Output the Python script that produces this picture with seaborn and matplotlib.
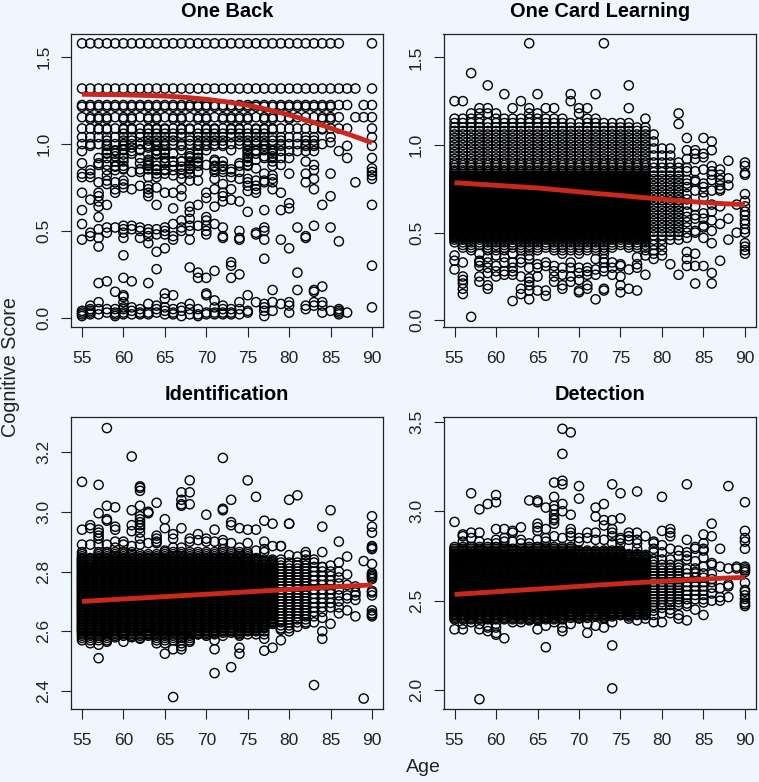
import matplotlib
matplotlib.use("Agg")
import matplotlib.pyplot as plt
import seaborn as sns
import pandas as pd

BG = "#F0F6FF"
RED = "#C9281C"

titles = ["One Back", "One Card Learning", "Identification", "Detection"]
ages = list(range(55, 91))
x_ticks = [55, 60, 65, 70, 75, 80, 85, 90]

# ---------- One Back: discrete upper levels, ages holding a circle on each ----------
ob_levels = [1.58, 1.32, 1.225, 1.215, 1.155, 1.145, 1.09, 1.085, 1.06, 1.04, 1.02, 1.0, 0.99,
             0.965, 0.945, 0.92, 0.90, 0.875, 0.855]
ob_level_ages = [
    list(range(55, 87)) + [90],
    list(range(55, 89)) + [90],
    list(range(55, 88)) + [89, 90],
    list(range(55, 86)),
    list(range(55, 87)) + [88, 89, 90],
    [56, 57, 58, 60, 61, 63, 64, 66, 67, 69, 70, 72, 73, 74, 75, 77, 78, 80, 84, 85],
    list(range(55, 84)) + [84, 85, 86, 87, 90],
    [57, 58, 60, 61, 63, 64, 65, 67, 68, 70, 71, 73, 74, 76, 77, 78, 84],
    [60, 62, 63, 64, 65, 66, 67, 69, 70, 71, 72, 73, 74, 75, 76, 77],
    list(range(55, 84)) + [85, 90],
    [58, 60, 61, 63, 64, 65, 66, 68, 69, 70, 71, 72, 74, 75, 76, 77, 78, 79, 82, 83],
    list(range(55, 84)) + [84],
    [56, 58, 60, 63, 64, 65, 67, 69, 70, 71, 72, 75, 77, 79, 82, 83],
    [58, 59, 60, 62, 64, 65, 67, 69, 70, 73, 75, 76, 77, 78],
    [58, 59, 61, 64, 65, 66, 68, 69, 75, 76, 78],
    [58, 60, 62, 65, 68, 69, 75, 77, 78],
    [59, 63, 65, 66, 67, 68, 69, 71, 72, 75],
    [59, 60, 63, 64, 66, 68, 69, 71, 72, 74, 75, 78],
    [60, 62, 63, 64, 65, 67, 68, 71, 72, 73],
]
ob_rest = [
    [0.96, 0.89, 0.83, 0.81, 0.72, 0.62, 0.54, 0.45, 0.04, 0.03, 0.02, 0.01],
    [0.85, 0.83, 0.81, 0.68, 0.49, 0.47, 0.07, 0.05, 0.04, 0.03, 0.02],
    [0.92, 0.89, 0.88, 0.78, 0.72, 0.70, 0.67, 0.64, 0.58, 0.51, 0.46, 0.41, 0.20, 0.09, 0.05, 0.02],
    [0.95, 0.88, 0.85, 0.82, 0.79, 0.77, 0.65, 0.52, 0.49, 0.21, 0.05, 0.03],
    [0.96, 0.93, 0.87, 0.85, 0.78, 0.74, 0.72, 0.52, 0.15, 0.05, 0.03, 0.02, 0.01],
    [0.97, 0.94, 0.90, 0.86, 0.79, 0.77, 0.75, 0.53, 0.51, 0.49, 0.46, 0.36, 0.23, 0.13, 0.12, 0.09, 0.06, 0.05, 0.03, 0.02],
    [0.98, 0.96, 0.84, 0.74, 0.53, 0.51, 0.21, 0.06, 0.04, 0.02],
    [0.97, 0.89, 0.84, 0.76, 0.52, 0.50, 0.46, 0.05, 0.03, 0.02],
    [0.98, 0.91, 0.89, 0.88, 0.81, 0.76, 0.74, 0.72, 0.70, 0.51, 0.49, 0.47, 0.43, 0.20, 0.08, 0.03, 0.02],
    [0.96, 0.94, 0.85, 0.83, 0.81, 0.75, 0.65, 0.51, 0.48, 0.38, 0.28, 0.07, 0.05, 0.03],
    [0.95, 0.92, 0.89, 0.85, 0.83, 0.72, 0.52, 0.50, 0.48, 0.40, 0.14, 0.11, 0.06, 0.04, 0.02],
    [0.90, 0.85, 0.82, 0.72, 0.63, 0.54, 0.47, 0.45, 0.13, 0.05, 0.03, 0.02],
    [0.90, 0.87, 0.83, 0.80, 0.74, 0.70, 0.56, 0.52, 0.50, 0.06, 0.04, 0.01],
    [0.93, 0.89, 0.86, 0.83, 0.79, 0.64, 0.61, 0.57, 0.53, 0.50, 0.45, 0.29, 0.08, 0.05, 0.02],
    [0.92, 0.89, 0.84, 0.79, 0.65, 0.53, 0.26, 0.23, 0.05, 0.02, 0.01],
    [0.88, 0.72, 0.69, 0.58, 0.56, 0.53, 0.50, 0.48, 0.23, 0.14, 0.13, 0.03, 0.02],
    [0.91, 0.87, 0.84, 0.80, 0.74, 0.64, 0.54, 0.27, 0.10, 0.06, 0.03, 0.02],
    [0.87, 0.84, 0.77, 0.72, 0.70, 0.67, 0.52, 0.47, 0.46, 0.07, 0.05, 0.03, 0.02],
    [0.84, 0.81, 0.74, 0.68, 0.32, 0.30, 0.23, 0.05, 0.03, 0.02],
    [0.89, 0.84, 0.80, 0.67, 0.50, 0.46, 0.45, 0.25, 0.09, 0.05, 0.02],
    [0.96, 0.93, 0.90, 0.88, 0.80, 0.78, 0.76, 0.73, 0.61, 0.13, 0.04, 0.03],
    [0.96, 0.91, 0.86, 0.79, 0.76, 0.74, 0.72, 0.49, 0.48, 0.09],
    [0.97, 0.93, 0.83, 0.79, 0.78, 0.62, 0.52, 0.50, 0.45, 0.34, 0.08, 0.06, 0.04, 0.01],
    [0.96, 0.93, 0.90, 0.82, 0.80, 0.78, 0.74, 0.16, 0.09, 0.04],
    [0.96, 0.92, 0.88, 0.72, 0.62, 0.45, 0.08],
    [0.96, 0.92, 0.83, 0.66, 0.63, 0.40, 0.09, 0.07, 0.03],
    [0.96, 0.52, 0.26, 0.16],
    [0.96, 0.90, 0.83, 0.78, 0.47, 0.46, 0.07, 0.05],
    [0.96, 0.88, 0.85, 0.80, 0.74, 0.53, 0.16, 0.15, 0.09, 0.07],
    [0.65, 0.18, 0.09, 0.07, 0.03],
    [1.01, 0.83, 0.70, 0.52, 0.04],
    [0.96, 0.44, 0.05, 0.04, 0.03, 0.02],
    [0.99, 0.92, 0.03],
    [0.78],
    [],
    [0.99, 0.92, 0.86, 0.84, 0.82, 0.80, 0.65, 0.30, 0.06],
]

# ---------- One Card Learning ----------
ocl_levels = [1.15, 1.125, 1.10, 1.08, 1.06, 1.04, 1.02, 1.0, 0.98, 0.96, 0.94, 0.92, 0.90, 0.885, 0.87, 0.855,
              0.845, 0.835, 0.825, 0.815, 0.805, 0.795, 0.785, 0.775, 0.765, 0.755, 0.745, 0.735,
              0.725, 0.715, 0.705, 0.695, 0.685, 0.675, 0.665, 0.655, 0.645, 0.635, 0.625, 0.615,
              0.605, 0.595, 0.585, 0.575, 0.565, 0.555, 0.545, 0.535, 0.525, 0.515, 0.505, 0.495,
              0.485, 0.475, 0.46, 0.445, 0.43, 0.415, 0.40]
ocl_fill = [0.82, 0.81, 0.80, 0.79, 0.78, 0.77, 0.76, 0.75, 0.74, 0.73, 0.72, 0.71, 0.70, 0.69, 0.68,
            0.67, 0.66, 0.65, 0.64, 0.63, 0.62, 0.61, 0.60, 0.59, 0.58, 0.57, 0.56, 0.55, 0.54, 0.53,
            0.52, 0.51, 0.50, 0.49, 0.48, 0.47]
ocl_top = [1.15, 1.15, 1.15, 1.15, 1.125, 1.15, 1.15, 1.15, 1.15, 1.15, 1.15, 1.15, 1.15, 1.15,
           1.125, 1.125, 1.15, 1.15, 1.125, 1.125, 1.125, 1.125, 1.10, 1.10, 1.06, 1.0, 0.98, 0.92]
ocl_low = [0.445, 0.415, 0.40, 0.43, 0.40, 0.40, 0.40, 0.415, 0.40, 0.40, 0.40, 0.415, 0.40, 0.40,
           0.40, 0.40, 0.40, 0.40, 0.40, 0.415, 0.43, 0.415, 0.415, 0.40, 0.40, 0.40, 0.46, 0.46]
ocl_extra = [
    [1.25, 0.37, 0.34, 0.29],
    [1.25, 0.33, 0.25, 0.23, 0.21, 0.18, 0.15],
    [1.41, 1.18, 0.02],
    [1.21, 1.18, 0.38, 0.34, 0.33, 0.31, 0.25, 0.22],
    [1.34, 1.21, 1.18, 0.36, 0.33, 0.30, 0.27, 0.20, 0.18],
    [1.18, 0.37, 0.31, 0.28, 0.25],
    [1.29, 0.36, 0.33, 0.28, 0.26],
    [1.21, 0.38, 0.33, 0.30, 0.28, 0.26, 0.11],
    [1.25, 0.35, 0.33, 0.25, 0.18, 0.15],
    [1.58, 1.21, 1.18, 0.37, 0.35, 0.30, 0.24, 0.22, 0.20, 0.17, 0.12],
    [1.29, 1.18, 0.32, 0.30, 0.25, 0.17],
    [1.21, 0.33, 0.31, 0.17, 0.14],
    [1.21, 0.31, 0.28, 0.25, 0.22],
    [0.38, 0.30, 0.26, 0.20, 0.18],
    [1.29, 1.25, 0.33, 0.30, 0.25, 0.22],
    [1.21, 1.18, 0.38, 0.30, 0.27, 0.23, 0.17, 0.16],
    [1.21, 0.30, 0.28, 0.26, 0.20, 0.18],
    [1.29, 0.35, 0.29, 0.26, 0.12],
    [1.58, 0.38, 0.35, 0.33, 0.30, 0.28, 0.18, 0.17],
    [0.33, 0.30, 0.26],
    [0.32, 0.31, 0.25, 0.20, 0.16],
    [1.34, 1.21, 0.29, 0.18],
    [0.36, 0.32, 0.30, 0.17],
    [1.15, 0.37, 0.26],
    [0.38, 0.35],
    [0.37],
    [0.32],
    [1.18, 1.12, 0.26],
    [1.04, 0.97, 0.92, 0.87, 0.85, 0.80, 0.78, 0.76, 0.72, 0.69, 0.66, 0.62, 0.59, 0.56, 0.53, 0.50, 0.47, 0.39, 0.35, 0.31],
    [0.97, 0.95, 0.92, 0.85, 0.80, 0.79, 0.74, 0.65, 0.60, 0.58, 0.51, 0.50, 0.38, 0.31, 0.21],
    [1.04, 0.95, 0.93, 0.86, 0.78, 0.76, 0.73, 0.70, 0.61, 0.58, 0.54, 0.53, 0.47, 0.31],
    [1.02, 0.97, 0.88, 0.85, 0.83, 0.80, 0.74, 0.66, 0.62, 0.57, 0.51, 0.44, 0.27, 0.21],
    [0.86, 0.83, 0.80, 0.77, 0.75, 0.74, 0.65, 0.55, 0.34],
    [0.91, 0.81, 0.77, 0.58, 0.46],
    [0.66, 0.50],
    [0.90, 0.88, 0.84, 0.83, 0.72, 0.68, 0.65, 0.62, 0.60, 0.57, 0.55, 0.52, 0.50, 0.44, 0.42, 0.40, 0.38],
]

# ---------- Identification ----------
id_levels = [2.865, 2.858, 2.851, 2.845, 2.84, 2.835, 2.83, 2.825, 2.82, 2.815, 2.81, 2.805,
             2.80, 2.795, 2.79, 2.785, 2.78, 2.775, 2.77, 2.765, 2.76, 2.755, 2.75, 2.745,
             2.74, 2.735, 2.73, 2.725, 2.72, 2.715, 2.71, 2.705, 2.70, 2.695, 2.69, 2.685,
             2.68, 2.675, 2.67, 2.665, 2.66, 2.655, 2.65, 2.645, 2.64, 2.635, 2.63, 2.625,
             2.62, 2.615, 2.61, 2.605, 2.60, 2.595, 2.59, 2.585, 2.578, 2.57]
id_fill = [2.842, 2.832, 2.822, 2.812, 2.802, 2.792, 2.782, 2.772, 2.762, 2.752, 2.742, 2.732,
           2.722, 2.712, 2.702, 2.692, 2.682, 2.672, 2.662, 2.652, 2.642, 2.632, 2.622, 2.612, 2.602]
id_top = [2.87, 2.85, 2.87, 2.87, 2.87, 2.87, 2.865, 2.86, 2.86, 2.86, 2.865, 2.87, 2.87, 2.87,
          2.865, 2.865, 2.865, 2.87, 2.865, 2.865, 2.865, 2.85, 2.84, 2.84, 2.83, 2.83, 2.83, 2.85,
          2.83, 2.815, 2.81, 2.79]
id_low = [2.57, 2.57, 2.57, 2.57, 2.585, 2.585, 2.585, 2.578, 2.585, 2.57, 2.57, 2.578, 2.57, 2.57,
          2.59, 2.59, 2.59, 2.595, 2.60, 2.59, 2.60, 2.60, 2.61, 2.625, 2.62, 2.62, 2.63, 2.625,
          2.64, 2.66, 2.67, 2.68]
id_extra = [
    [3.10, 2.94, 2.89],
    [2.955, 2.945, 2.89, 2.56],
    [3.09, 2.995, 2.94, 2.93, 2.92, 2.91, 2.89, 2.555, 2.51],
    [3.28, 3.02, 2.975, 2.97, 2.89, 2.565],
    [3.015, 2.95, 2.94, 2.90, 2.88, 2.58],
    [2.90, 2.89, 2.565],
    [3.185, 3.005, 2.955, 2.935, 2.885, 2.58],
    [3.085, 3.08, 3.07, 3.02, 2.985, 2.975, 2.965, 2.955, 2.945, 2.93, 2.91, 2.89, 2.575],
    [3.0, 2.995, 2.895, 2.59],
    [3.03, 2.92, 2.91, 2.90, 2.895, 2.56],
    [2.975, 2.945, 2.87, 2.56, 2.525],
    [2.925, 2.91, 2.88, 2.57, 2.54, 2.38],
    [3.065, 3.04, 3.025, 3.02, 2.945, 2.88, 2.56, 2.55, 2.54],
    [3.105, 3.065, 3.025, 2.91, 2.90, 2.565],
    [2.925, 2.905, 2.59],
    [2.99, 2.91, 2.90, 2.585],
    [2.94, 2.90, 2.57, 2.54, 2.46],
    [3.18, 3.01, 3.005, 2.905, 2.895, 2.875, 2.585],
    [3.04, 2.965, 2.955, 2.895, 2.595, 2.48],
    [2.945, 2.88, 2.585, 2.545, 2.525],
    [3.105, 2.94, 2.895, 2.59],
    [3.05, 2.94, 2.87, 2.59],
    [2.97, 2.90, 2.875, 2.865, 2.60, 2.59, 2.575, 2.535],
    [2.96, 2.885, 2.545, 2.625],
    [2.885, 2.885, 2.84, 2.61, 2.605, 2.57],
    [3.04, 2.96, 2.96, 2.855, 2.61, 2.60],
    [3.055, 2.85, 2.615],
    [2.865, 2.855, 2.625],
    [2.84, 2.63, 2.42],
    [2.95, 2.865, 2.815, 2.645, 2.60, 2.575],
    [3.005, 2.82, 2.625],
    [2.90, 2.83, 2.80, 2.66],
    [2.85, 2.79, 2.755, 2.72, 2.71, 2.67],
    [2.75, 2.73, 2.72, 2.705, 2.65],
    [2.835, 2.375],
    [2.985, 2.95, 2.93, 2.885, 2.88, 2.875, 2.825, 2.795, 2.79, 2.785, 2.78, 2.775, 2.735, 2.73, 2.72, 2.67, 2.66, 2.655, 2.65],
]

# ---------- Detection ----------
de_levels = [2.80, 2.79, 2.78, 2.772, 2.764, 2.756, 2.748, 2.74, 2.732, 2.724, 2.716, 2.708,
             2.70, 2.692, 2.684, 2.676, 2.668, 2.66, 2.652, 2.644, 2.636, 2.628, 2.62, 2.612,
             2.604, 2.596, 2.588, 2.58, 2.572, 2.564, 2.556, 2.548, 2.54, 2.532, 2.524, 2.516,
             2.508, 2.50, 2.492, 2.484, 2.476, 2.468, 2.46, 2.452, 2.444, 2.436, 2.428, 2.42,
             2.412, 2.404, 2.396]
de_fill = [2.76, 2.744, 2.728, 2.712, 2.696, 2.68, 2.664, 2.648, 2.632, 2.616, 2.60, 2.584,
           2.568, 2.552, 2.536, 2.52, 2.504, 2.488, 2.472, 2.456, 2.44, 2.424]
de_top = [2.80, 2.80, 2.80, 2.80, 2.80, 2.80, 2.80, 2.79, 2.79, 2.80, 2.80, 2.80, 2.80, 2.80,
          2.80, 2.78, 2.78, 2.78, 2.78, 2.78, 2.78, 2.76, 2.76, 2.756, 2.74, 2.70, 2.70, 2.70,
          2.676, 2.652, 2.652, 2.62]
de_low = [2.396, 2.396, 2.396, 2.396, 2.396, 2.396, 2.396, 2.396, 2.396, 2.396, 2.396, 2.396, 2.396, 2.396,
          2.404, 2.404, 2.404, 2.412, 2.404, 2.412, 2.42, 2.412, 2.42, 2.42, 2.444, 2.452, 2.468, 2.468,
          2.484, 2.492, 2.50, 2.516]
de_extra = [
    [2.94, 2.34],
    [2.87, 2.86, 2.83, 2.37, 2.34],
    [3.10, 2.88, 2.85, 2.38],
    [3.01, 2.88, 2.83, 2.37, 2.34, 1.95],
    [3.04, 2.82, 2.36, 2.35, 2.33],
    [3.09, 3.05, 2.90, 2.84, 2.82, 2.37, 2.35, 2.32, 2.31],
    [2.90, 2.85, 2.83, 2.29],
    [2.89, 2.88, 2.83, 2.38],
    [2.91, 2.84, 2.82, 2.38],
    [3.06, 2.82, 2.39],
    [3.06, 3.05, 2.93, 2.91, 2.89, 2.84, 2.39, 2.34],
    [3.02, 2.90, 2.85, 2.83, 2.36, 2.24],
    [3.16, 3.08, 3.03, 3.01, 2.98, 2.96, 2.95, 2.93, 2.86, 2.38],
    [3.46, 3.32, 3.17, 3.15, 3.04, 3.00, 2.85, 2.35, 2.33],
    [3.44, 2.98, 2.90, 2.88, 2.86, 2.37],
    [3.14, 3.07, 2.85, 2.83, 2.40],
    [2.88, 2.85, 2.37, 2.32],
    [3.02, 2.97, 2.88, 2.84, 2.36],
    [3.04, 2.95, 2.92, 2.84, 2.40, 2.35],
    [3.15, 2.95, 2.90, 2.88, 2.86, 2.82, 2.38, 2.25, 2.01],
    [3.10, 2.96, 2.85, 2.84, 2.82, 2.42],
    [2.88, 2.86, 2.84, 2.40],
    [3.11, 2.88, 2.84, 2.82, 2.79, 2.39],
    [2.86, 2.40, 2.42],
    [2.83, 2.82, 2.79, 2.77, 2.38, 2.42],
    [3.08, 2.89, 2.81, 2.77, 2.73, 2.38, 2.43],
    [2.90, 2.88, 2.86, 2.79, 2.73, 2.45, 2.43],
    [2.78, 2.75, 2.42, 2.40],
    [3.15, 2.84, 2.77, 2.75, 2.73, 2.47, 2.39],
    [2.80, 2.79, 2.72, 2.68, 2.66, 2.45],
    [2.87, 2.82, 2.79, 2.78, 2.74, 2.69, 2.49, 2.42],
    [2.93, 2.86, 2.71, 2.70, 2.65, 2.62, 2.50],
    [2.79, 2.69, 2.57, 2.52, 2.50],
    [3.14, 2.68, 2.59, 2.58, 2.52],
    [2.69, 2.68],
    [3.05, 2.89, 2.85, 2.83, 2.79, 2.69, 2.68, 2.67, 2.66, 2.60, 2.56, 2.55, 2.53, 2.51, 2.49, 2.48, 2.47],
]

# how many level rows are skipped per age from 79 on (cloud thins out with age)
row_step = {79: 2, 80: 2, 81: 2, 82: 2, 83: 3, 84: 3, 85: 3, 86: 4}

# ---------- Red trend lines ----------
trend_ages = [55, 60, 65, 67.5, 70, 72.5, 75, 77.5, 80, 82.5, 85, 87.5, 90]
ob_trend = [1.287, 1.284, 1.277, 1.269, 1.258, 1.243, 1.224, 1.198, 1.168, 1.132, 1.092, 1.051, 1.008]
ocl_trend = [0.785, 0.77, 0.755, 0.744, 0.733, 0.722, 0.712, 0.701, 0.691, 0.681, 0.672, 0.665, 0.66]
id_trend = [2.70, 2.708, 2.716, 2.72, 2.724, 2.728, 2.732, 2.736, 2.74, 2.744, 2.748, 2.752, 2.755]
de_trend = [2.535, 2.55, 2.565, 2.572, 2.58, 2.588, 2.595, 2.602, 2.608, 2.615, 2.62, 2.626, 2.63]

y_ticks = [[0.0, 0.5, 1.0, 1.5], [0.0, 0.5, 1.0, 1.5],
           [2.4, 2.6, 2.8, 3.0, 3.2], [2.0, 2.5, 3.0, 3.5]]
y_limits = [(-0.053, 1.634), (-0.038, 1.633), (2.34, 3.317), (1.895, 3.526)]
x_limits = (53.67, 91.33)


def one_back_frame():
    xs, ys = [], []
    for level, lvl_ages in zip(ob_levels, ob_level_ages):
        xs += lvl_ages
        ys += [level] * len(lvl_ages)
    for age, vals in zip(ages, ob_rest):
        xs += [age] * len(vals)
        ys += vals
    return pd.DataFrame({"age": xs, "score": ys})


def cloud_frame(levels, fill, tops, lows, extras):
    xs, ys = [], []
    for age, hi, lo in zip(ages, tops, lows):
        step = row_step.get(age, 1)
        use = levels[::step] + (fill if step == 1 else [])
        vals = [v for v in use if lo <= v <= hi]
        xs += [age] * len(vals)
        ys += vals
    for age, vals in zip(ages, extras):
        xs += [age] * len(vals)
        ys += vals
    return pd.DataFrame({"age": xs, "score": ys})


frames = [
    one_back_frame(),
    cloud_frame(ocl_levels, ocl_fill, ocl_top, ocl_low, ocl_extra),
    cloud_frame(id_levels, id_fill, id_top, id_low, id_extra),
    cloud_frame(de_levels, de_fill, de_top, de_low, de_extra),
]
trends = [ob_trend, ocl_trend, id_trend, de_trend]

sns.set_theme(style="ticks")
plt.rcParams["font.family"] = ["Liberation Sans", "DejaVu Sans"]

W, H = 759, 782
fig = plt.figure(figsize=(W / 100, H / 100), dpi=100, facecolor=BG)
boxes = [(71, 34, 383, 327), (443.5, 34, 756, 327), (71, 417, 383, 709), (443.5, 417, 756, 709)]

for i, (l, t, r, b) in enumerate(boxes):
    ax = fig.add_axes([l / W, 1 - b / H, (r - l) / W, (b - t) / H], facecolor=BG)
    sns.scatterplot(data=frames[i], x="age", y="score", ax=ax, s=44, facecolors="none",
                    edgecolor="black", linewidth=1.0, legend=False, clip_on=True)
    sns.lineplot(x=trend_ages, y=trends[i], ax=ax, color=RED, linewidth=3.5, errorbar=None,
                 solid_capstyle="butt", zorder=5)
    ax.set_xlim(*x_limits)
    ax.set_ylim(*y_limits[i])
    ax.set_xticks(x_ticks)
    ax.set_yticks(y_ticks[i])
    ax.set_yticklabels([f"{v:.1f}" for v in y_ticks[i]], rotation=90, va="center")
    ax.tick_params(axis="both", length=7.5, width=0.8, color="#222222", labelsize=12.5,
                   labelcolor="#222222", pad=6.5)
    ax.tick_params(axis="x", pad=10)
    ax.set_xlabel("")
    ax.set_ylabel("")
    for s in ax.spines.values():
        s.set_linewidth(0.9)
        s.set_color("#222222")
    ax.set_title(titles[i], fontsize=14.4, fontweight="bold", color="black",
                 y=1.0, pad=12.5)

fig.text(11 / W, 1 - 367 / H, "Cognitive Score", rotation=90, fontsize=14.2, va="center",
         ha="center", color="#222222")
fig.text(423 / W, 1 - 768 / H, "Age", fontsize=14, va="center", ha="center", color="#222222")

fig.savefig("out.png", dpi=100, facecolor=BG)
